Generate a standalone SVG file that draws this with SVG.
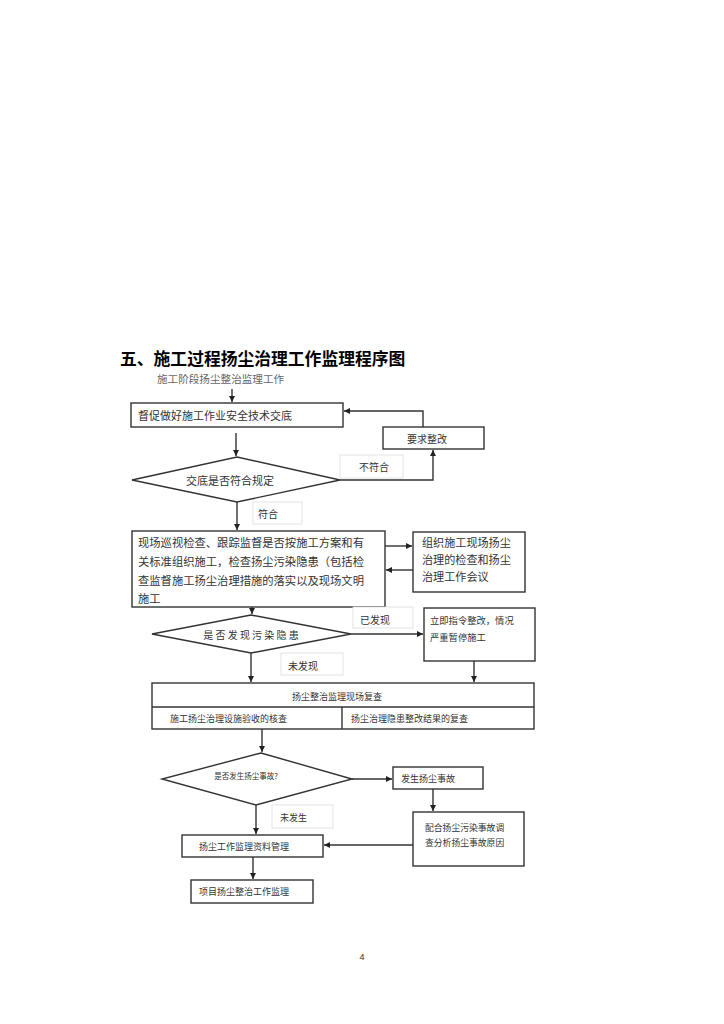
<svg xmlns="http://www.w3.org/2000/svg" width="724" height="1024" viewBox="0 0 724 1024">
<style>
text{font-family:"Noto Sans CJK SC","Noto Sans CJK JP",sans-serif;fill:#333;dominant-baseline:central}
.box{fill:#fff;stroke:#333;stroke-width:1.4}
.lbl{fill:#fff;stroke:#ddd;stroke-width:0.8}
.con{fill:none;stroke:#333;stroke-width:1.4}
</style>
<defs>
<marker id="ah" markerUnits="userSpaceOnUse" markerWidth="7" markerHeight="7" refX="6" refY="3" orient="auto">
<path d="M0,0 L6,3 L0,6 z" fill="#222"/>
</marker>
</defs>
<rect width="724" height="1024" fill="#fff"/>
<g id="title">
<text x="120" y="358" font-size="16.8" font-weight="bold" style="fill:#000">五、施工过程扬尘治理工作监理程序图</text>
<text x="157" y="378.5" font-size="10.6" style="fill:#666">施工阶段扬尘整治监理工作</text>
</g>
<g id="n1"><rect class="box" x="131" y="403" width="212" height="24"/><text x="138" y="415" font-size="11">督促做好施工作业安全技术交底</text></g>
<g id="n2"><rect class="box" x="383" y="427" width="101" height="22"/><text x="427" y="438" font-size="10" text-anchor="middle">要求整改</text></g>
<g id="d1"><polygon class="box" points="237,457 340,480 237,502 132,480"/><text x="230" y="480" font-size="11" text-anchor="middle">交底是否符合规定</text></g>
<g id="l1"><rect class="lbl" x="340" y="455" width="63" height="23"/><text x="374" y="466" font-size="10" text-anchor="middle">不符合</text></g>
<g id="l2"><rect class="lbl" x="253" y="502" width="49" height="22"/><text x="258" y="513" font-size="10">符合</text></g>
<g id="n3"><rect class="box" x="132" y="531" width="253" height="76"/>
<text x="138" y="542" font-size="11.3">现场巡视检查、跟踪监督是否按施工方案和有</text>
<text x="138" y="561" font-size="11.3">关标准组织施工，检查扬尘污染隐患（包括检</text>
<text x="138" y="580" font-size="11.3">查监督施工扬尘治理措施的落实以及现场文明</text>
<text x="138" y="598" font-size="11.3">施工</text></g>
<g id="n4"><rect class="box" x="413" y="532" width="112" height="60"/>
<text x="422" y="542" font-size="11.1">组织施工现场扬尘</text>
<text x="422" y="559" font-size="11.1">治理的检查和扬尘</text>
<text x="422" y="576" font-size="11.1">治理工作会议</text></g>
<g id="d2"><polygon class="box" points="251,615 351,634 251,653 152,634"/><text x="251" y="634" font-size="10" text-anchor="middle">是 否 发 现 污 染 隐 患</text></g>
<g id="l3"><rect class="lbl" x="353" y="607" width="60" height="21"/><text x="360" y="619" font-size="10">已发现</text></g>
<g id="n5"><rect class="box" x="424" y="608" width="111" height="53"/>
<text x="430" y="620" font-size="9.3">立即指令整改，情况</text>
<text x="430" y="637" font-size="9.3">严重暂停施工</text></g>
<g id="l4"><rect class="lbl" x="281" y="653" width="62" height="22"/><text x="288" y="665" font-size="10">未发现</text></g>
<g id="n6"><rect class="box" x="152" y="683" width="382" height="46"/>
<line class="con" x1="152" y1="707" x2="534" y2="707"/>
<line class="con" x1="342" y1="707" x2="342" y2="729"/>
<text x="337" y="696" font-size="9" text-anchor="middle">扬尘整治监理现场复查</text>
<text x="170" y="718" font-size="9">施工扬尘治理设施验收的核查</text>
<text x="351" y="718" font-size="9">扬尘治理隐患整改结果的复查</text></g>
<g id="d3"><polygon class="box" points="261,753 352,779 256,805 162,779"/><text x="246" y="775" font-size="7.5" text-anchor="middle">是否发生扬尘事故?</text></g>
<g id="n7"><rect class="box" x="393" y="767" width="90" height="22"/><text x="401" y="778" font-size="9">发生扬尘事故</text></g>
<g id="l5"><rect class="lbl" x="272" y="805" width="61" height="23"/><text x="280" y="817" font-size="9">未发生</text></g>
<g id="n8"><rect class="box" x="413" y="812" width="111" height="54"/>
<text x="425" y="827" font-size="8.8">配合扬尘污染事故调</text>
<text x="425" y="842" font-size="8.8">查分析扬尘事故原因</text></g>
<g id="n9"><rect class="box" x="182" y="835" width="141" height="22"/><text x="199" y="846" font-size="9">扬尘工作监理资料管理</text></g>
<g id="n10"><rect class="box" x="191" y="880" width="122" height="23"/><text x="199" y="891" font-size="9">项目扬尘整治工作监理</text></g>
<g id="connectors">
<polyline class="con" points="232,389 232,402" marker-end="url(#ah)"/>
<polyline class="con" points="236,433 236,456" marker-end="url(#ah)"/>
<polyline class="con" points="423,427 423,411 344,411" marker-end="url(#ah)"/>
<polyline class="con" points="340,480 433,480 433,450" marker-end="url(#ah)"/>
<polyline class="con" points="237,502 237,530" marker-end="url(#ah)"/>
<polyline class="con" points="385,546 412,546" marker-end="url(#ah)"/>
<polyline class="con" points="413,570 386,570" marker-end="url(#ah)"/>
<polyline class="con" points="252,607 252,614" marker-end="url(#ah)"/>
<polyline class="con" points="351,634 423,634" marker-end="url(#ah)"/>
<polyline class="con" points="251,653 251,682" marker-end="url(#ah)"/>
<polyline class="con" points="474,661 474,682" marker-end="url(#ah)"/>
<polyline class="con" points="262,729 262,752" marker-end="url(#ah)"/>
<polyline class="con" points="352,779 392,779" marker-end="url(#ah)"/>
<polyline class="con" points="433,789 433,811" marker-end="url(#ah)"/>
<polyline class="con" points="256,805 256,834" marker-end="url(#ah)"/>
<polyline class="con" points="413,845 324,845" marker-end="url(#ah)"/>
<polyline class="con" points="253,857 253,879" marker-end="url(#ah)"/>
</g>
<text x="362" y="957" font-size="9" text-anchor="middle" style="font-family:'Liberation Sans',sans-serif">4</text>
</svg>
